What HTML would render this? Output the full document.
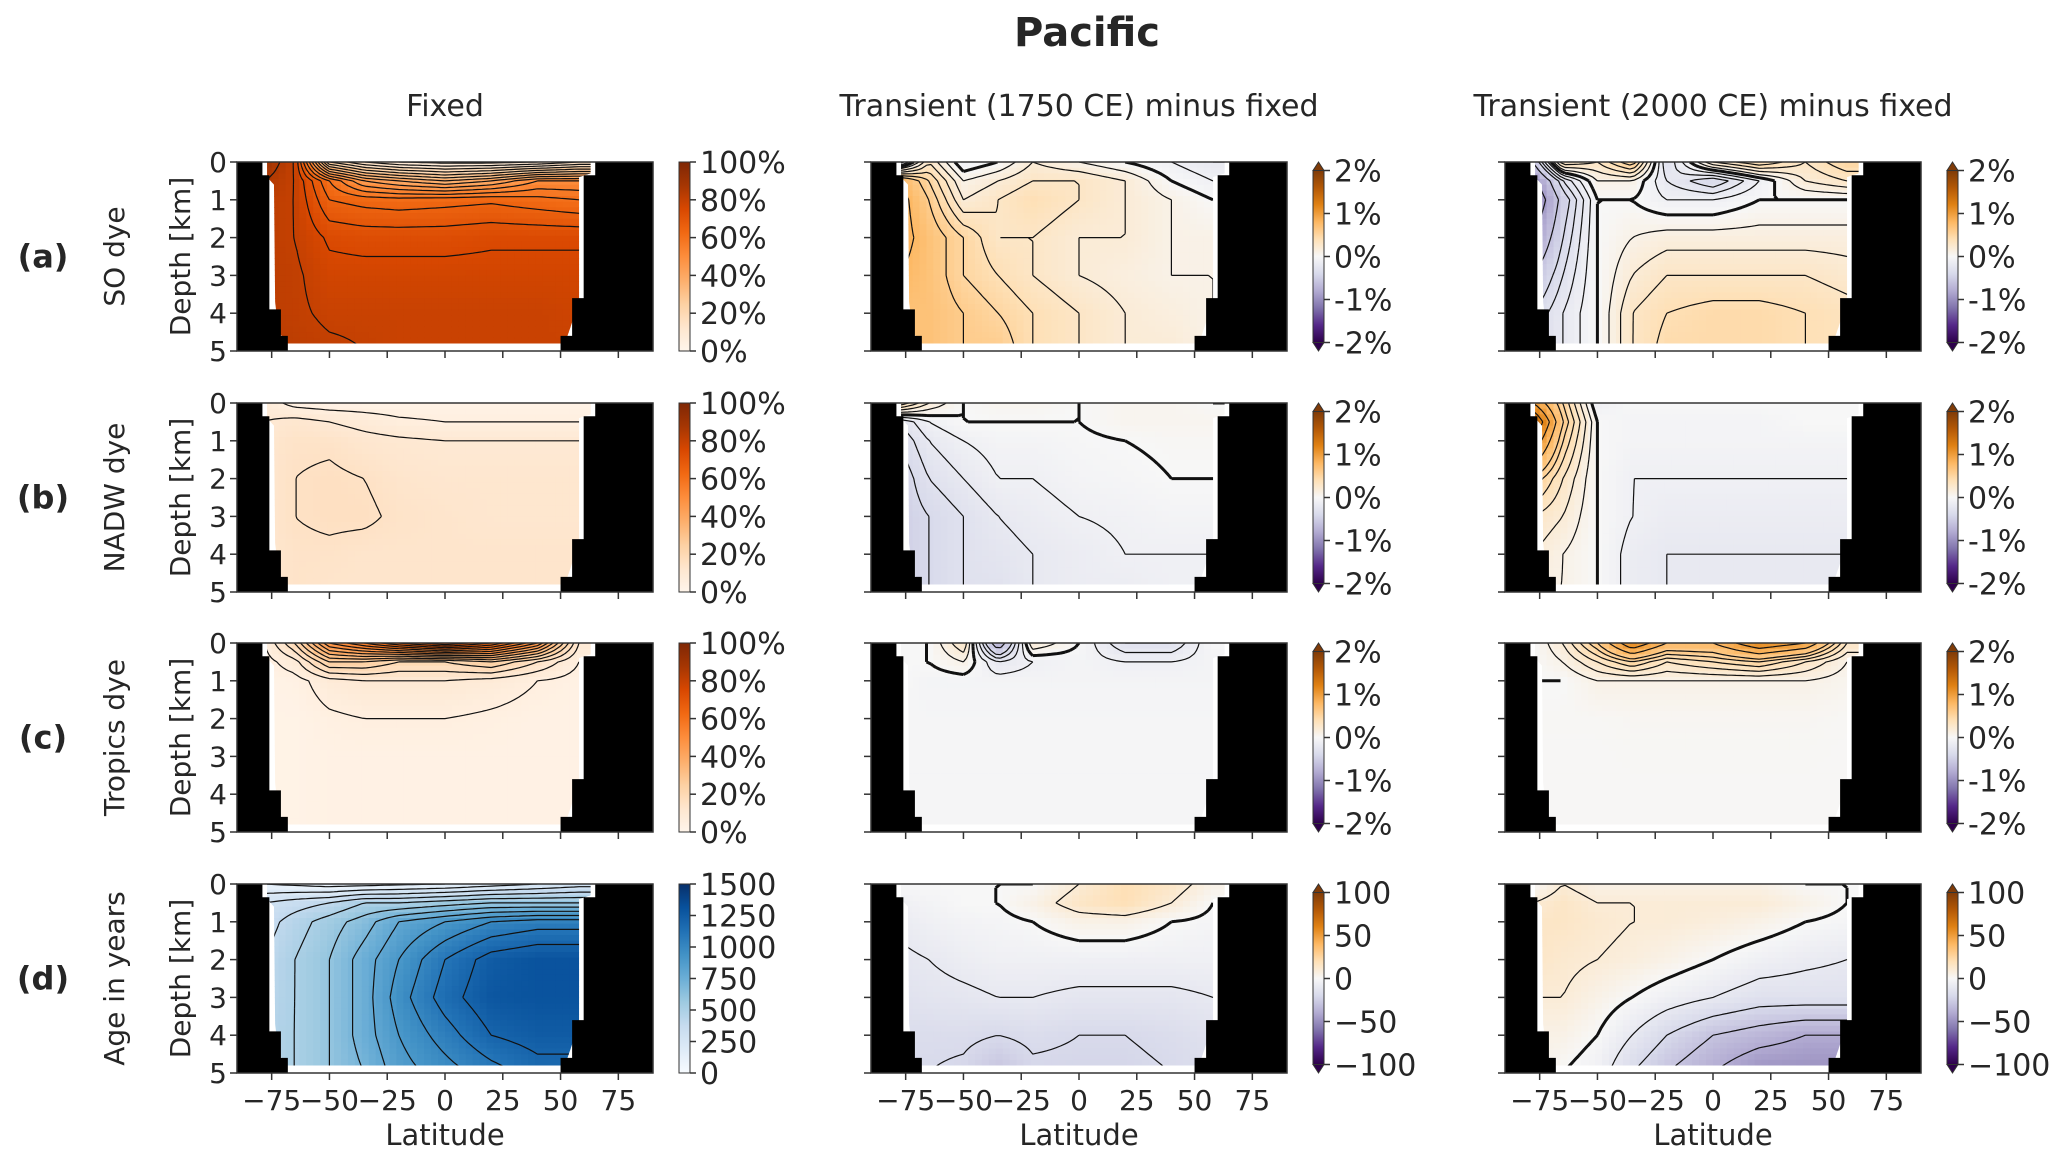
<!DOCTYPE html>
<html><head><meta charset="utf-8">
<style>
html,body{margin:0;padding:0;background:#fff;}
svg{display:block;font-family:"DejaVu Sans","Liberation Sans",sans-serif;}
</style></head>
<body>
<svg id="fig" xmlns="http://www.w3.org/2000/svg" width="2067" height="1162" viewBox="0 0 2067 1162">
<defs>
<linearGradient id="gOr" x1="0" y1="1" x2="0" y2="0">
<stop offset="0" stop-color="#fff5eb"/><stop offset="0.125" stop-color="#fee6ce"/><stop offset="0.25" stop-color="#fdd0a2"/><stop offset="0.375" stop-color="#fdae6b"/><stop offset="0.5" stop-color="#fd8d3c"/><stop offset="0.625" stop-color="#f16913"/><stop offset="0.75" stop-color="#d94801"/><stop offset="0.875" stop-color="#a63603"/><stop offset="1" stop-color="#7f2704"/>
</linearGradient>
<linearGradient id="gBl" x1="0" y1="1" x2="0" y2="0">
<stop offset="0" stop-color="#f7fbff"/><stop offset="0.125" stop-color="#deebf7"/><stop offset="0.25" stop-color="#c6dbef"/><stop offset="0.375" stop-color="#9ecae1"/><stop offset="0.5" stop-color="#6baed6"/><stop offset="0.625" stop-color="#4292c6"/><stop offset="0.75" stop-color="#2171b5"/><stop offset="0.875" stop-color="#08519c"/><stop offset="1" stop-color="#08306b"/>
</linearGradient>
<linearGradient id="gPo" x1="0" y1="1" x2="0" y2="0">
<stop offset="0" stop-color="#2d004b"/><stop offset="0.1" stop-color="#542788"/><stop offset="0.2" stop-color="#8073ac"/><stop offset="0.3" stop-color="#b2abd2"/><stop offset="0.4" stop-color="#d8daeb"/><stop offset="0.5" stop-color="#f7f7f7"/><stop offset="0.6" stop-color="#fee0b6"/><stop offset="0.7" stop-color="#fdb863"/><stop offset="0.8" stop-color="#e08214"/><stop offset="0.9" stop-color="#b35806"/><stop offset="1" stop-color="#7f3b08"/>
</linearGradient>
</defs>
<text x="1087" y="46" font-size="40" font-weight="bold" text-anchor="middle" fill="#262626">Pacific</text>
</svg>
<script>
// ---- data ----
const lats = [-78,-65,-50,-35,-20,0,20,40,58];
const depths = [0,0.5,1,2,3,4,5];
const colTitles = ["Fixed","Transient (1750 CE) minus fixed","Transient (2000 CE) minus fixed"];
const rowLetters = ["(a)","(b)","(c)","(d)"];
const rowNames = ["SO dye","NADW dye","Tropics dye","Age in years"];
const depthTicks = [0,1,2,3,4,5];
const latTicks = [-75,-50,-25,0,25,50,75];
const latTickLabels = ["\u221275","\u221250","\u221225","0","25","50","75"];
const pctLabels = ["100%","80%","60%","40%","20%","0%"];
const pctVals = [100,80,60,40,20,0];
const diffLabels = ["2%","1%","0%","-1%","-2%"];
const diffVals = [2,1,0,-1,-2];
const ageLabels = ["1500","1250","1000","750","500","250","0"];
const ageVals = [1500,1250,1000,750,500,250,0];
const ageDiffLabels = ["100","50","0","\u221250","\u2212100"];
const ageDiffVals = [100,50,0,-50,-100];
const pctLevels = [5,10,15,20,25,30,35,40,45,50,55,60,65,70,75,80,85,90];
const ageLevels = [100,200,300,400,500,600,700,800,900,1000,1100,1200,1300,1400];
const diffLevels = [-1.5,-1.2,-0.9,-0.6,-0.4,-0.3,-0.2,-0.1,0,0.1,0.2,0.3,0.4,0.5,0.6,0.8,1.0,1.2,1.5];
const ageDiffLevels = [-50,-40,-30,-20,-10,0,10,20];

const soFixed = [[90,80,20,10,5,3,3,5,10],[85,80,60,45,40,35,40,50,50],[82,80,65,63,62,63,64,62,60],[82,80,74,73,73,73,74,74,74],[82,81,77,77,77,77,77,77,77],[82,81,79,79,79,79,79,79,78],[83,82,81,80,79,79,79,79,79]];
const so1750 = [[-0.3,0.3,-0.1,0,0.2,0.1,0.0,-0.1,-0.2],[0.8,0.5,0.1,0.2,0.3,0.3,0.2,0,-0.1],[0.9,0.6,0.2,0.3,0.4,0.3,0.2,0.1,0.0],[0.9,0.7,0.5,0.3,0.3,0.2,0.2,0.1,0.1],[0.8,0.7,0.5,0.4,0.3,0.2,0.15,0.1,0.1],[0.7,0.7,0.6,0.5,0.4,0.3,0.2,0.15,0.1],[0.7,0.7,0.6,0.6,0.4,0.3,0.2,0.2,0.1]];
const so2000 = [[-0.6,0.4,0.3,0.6,-0.3,0.3,0.5,0.3,0.5],[-1.0,-0.3,0.1,0.1,-0.2,-0.4,-0.1,0.2,0.3],[-1.2,-0.5,0.0,0.0,-0.1,-0.1,0,0,0],[-0.9,-0.4,0.0,0.1,0.15,0.15,0.15,0.15,0.15],[-0.6,-0.3,0.0,0.2,0.3,0.3,0.3,0.3,0.25],[-0.4,-0.2,0.0,0.3,0.4,0.45,0.45,0.4,0.35],[-0.4,-0.2,0.0,0.3,0.45,0.45,0.45,0.4,0.35]];
const nadwFixed = [[8,3,2,2,2,2,2,2,2],[10,12,10,8,6,5,5,5,5],[12,14,14,12,11,10,10,10,10],[12,15,16,15,13,12,12,12,12],[12,15,16,16,14,13,12,12,12],[12,14,14,13,13,13,13,13,13],[12,14,13,13,13,13,13,13,13]];
const nadw1750 = [[0.5,0.2,0,0.05,0.05,0,0.05,0.05,0],[-0.3,-0.1,0,0,0,0,0.05,0.05,0.05],[-0.4,-0.2,-0.1,-0.05,-0.05,-0.02,0,0.02,0.02],[-0.5,-0.3,-0.2,-0.1,-0.1,-0.05,-0.03,0,0],[-0.5,-0.4,-0.3,-0.2,-0.15,-0.1,-0.08,-0.05,-0.05],[-0.5,-0.4,-0.3,-0.25,-0.2,-0.15,-0.1,-0.1,-0.1],[-0.5,-0.4,-0.3,-0.3,-0.2,-0.15,-0.15,-0.1,-0.1]];
const nadw2000 = [[1.0,0.5,-0.1,0,0,0,0,0,0],[1.5,0.6,0,-0.05,-0.05,-0.05,-0.05,0,0],[1.2,0.5,0,-0.05,-0.05,-0.05,-0.05,-0.05,-0.05],[0.6,0.3,0,-0.1,-0.1,-0.1,-0.1,-0.1,-0.1],[0.3,0.2,0,-0.1,-0.15,-0.15,-0.15,-0.15,-0.15],[0.2,0.1,0,-0.15,-0.2,-0.2,-0.2,-0.2,-0.2],[0.1,0.1,0,-0.15,-0.2,-0.2,-0.2,-0.2,-0.2]];
const tropFixed = [[5,20,50,60,70,80,70,50,10],[3,8,25,25,20,20,25,15,5],[2,3,8,10,10,10,8,5,3],[2,2,4,5,5,5,4,3,3],[2,2,3,3,3,3,3,3,3],[2,2,3,3,3,3,3,3,3],[2,2,3,3,3,3,3,3,3]];
const trop1750 = [[0,0,0.3,-0.8,0.2,0,-0.3,-0.3,0],[0,0,0.1,-0.2,-0.1,-0.05,-0.1,-0.1,-0.05],[0,-0.05,-0.05,-0.05,-0.05,-0.05,-0.05,-0.05,-0.05],[-0.03,-0.03,-0.03,-0.03,-0.03,-0.03,-0.03,-0.03,-0.03],[-0.03,-0.03,-0.03,-0.03,-0.03,-0.03,-0.03,-0.03,-0.03],[-0.03,-0.03,-0.03,-0.03,-0.03,-0.03,-0.03,-0.03,-0.03],[-0.03,-0.03,-0.03,-0.03,-0.03,-0.03,-0.03,-0.03,-0.03]];
const trop2000 = [[0,0.2,0.6,1.2,0.8,0.8,1.2,1.0,0.3],[0,0.1,0.3,0.5,0.3,0.4,0.5,0.3,0.1],[0,0,0.1,0.1,0.1,0.1,0.1,0.1,0.05],[0.02,0.02,0.02,0.03,0.03,0.03,0.03,0.03,0.02],[0.01,0.01,0.01,0.02,0.02,0.02,0.02,0.02,0.01],[0.01,0.01,0.01,0.01,0.01,0.01,0.01,0.01,0.01],[0.01,0.01,0.01,0.01,0.01,0.01,0.01,0.01,0.01]];
const ageFixed = [[100,80,50,60,80,100,150,200,250],[300,350,400,500,500,550,600,600,600],[350,450,550,650,800,900,1000,1050,1050],[400,500,600,750,900,1100,1250,1300,1300],[420,500,600,750,950,1150,1280,1300,1300],[450,500,600,750,900,1050,1200,1250,1250],[450,500,600,700,850,950,1050,1150,1150]];
const age1750 = [[0,0,0,0,0,10,20,15,5],[-5,-3,0,0,5,15,20,10,0],[-8,-5,-3,-2,0,5,5,0,-2],[-12,-10,-7,-5,-5,-5,-5,-5,-5],[-15,-13,-12,-10,-10,-12,-12,-12,-10],[-18,-18,-18,-20,-18,-20,-20,-18,-15],[-20,-20,-22,-30,-22,-22,-22,-20,-18]];
const age2000 = [[0,10,5,5,5,5,5,0,0],[10,15,10,10,10,10,10,5,0],[15,15,12,10,10,8,5,0,-2],[15,12,10,8,5,0,-5,-8,-10],[10,10,5,0,-5,-10,-15,-15,-15],[5,5,0,-10,-20,-30,-35,-40,-40],[5,0,-5,-20,-30,-40,-50,-50,-50]];

// ---- layout / colormaps ----
const NS="http://www.w3.org/2000/svg";
const svg=document.getElementById('fig');
const colX=[237,871,1505], rowY=[162,403,643,884], W=416, H=189;
const OR=["#fff5eb","#fee6ce","#fdd0a2","#fdae6b","#fd8d3c","#f16913","#d94801","#a63603","#7f2704"];
const BL=["#f7fbff","#deebf7","#c6dbef","#9ecae1","#6baed6","#4292c6","#2171b5","#08519c","#08306b"];
const PO=["#2d004b","#542788","#8073ac","#b2abd2","#d8daeb","#f7f7f7","#fee0b6","#fdb863","#e08214","#b35806","#7f3b08"];
function hex(h){return [parseInt(h.substr(1,2),16),parseInt(h.substr(3,2),16),parseInt(h.substr(5,2),16)];}
function cmap(stops,t){t=Math.max(0,Math.min(1,t));const n=stops.length-1;const f=t*n;const i=Math.min(n-1,Math.floor(f));const u=f-i;const a=hex(stops[i]),b=hex(stops[i+1]);return 'rgb('+a.map((v,k)=>Math.round(v+(b[k]-v)*u)).join(',')+')';}
function mk(tag,attrs,parent){const e=document.createElementNS(NS,tag);for(const k in attrs)e.setAttribute(k,attrs[k]);(parent||svg).appendChild(e);return e;}
function interp(grid,lat,d){
  let i=0;while(i<lats.length-2&&lat>lats[i+1])i++;
  let j=0;while(j<depths.length-2&&d>depths[j+1])j++;
  const u=Math.max(0,Math.min(1,(lat-lats[i])/(lats[i+1]-lats[i])));
  const v=Math.max(0,Math.min(1,(d-depths[j])/(depths[j+1]-depths[j])));
  const a=grid[j][i],b=grid[j][i+1],c=grid[j+1][i],e=grid[j+1][i+1];
  return a*(1-u)*(1-v)+b*u*(1-v)+c*(1-u)*v+e*u*v;
}
const panels=[
 [soFixed,so1750,so2000],[nadwFixed,nadw1750,nadw2000],[tropFixed,trop1750,trop2000],[ageFixed,age1750,age2000]];
const fieldPoly=[[-77,0],[63,0],[63,0.3],[58,0.4],[58,3.7],[53,4.6],[51,4.8],[-68,4.8],[-72,4.5],[-73.5,3.7],[-74,0.6],[-77,0.4]];
const landL=[[-90,0],[-79,0],[-79,0.35],[-76,0.35],[-76,3.9],[-71,3.9],[-71,4.6],[-68,4.6],[-68,5],[-90,5]];
const landR=[[90,0],[65,0],[65,0.35],[60,0.35],[60,3.6],[55,3.6],[55,4.6],[50,4.6],[50,5],[90,5]];

function contourPath(grid,level,X,Y){
  level=level+1e-6;
  const dl=2,dd=0.1;let d='';
  for(let lat=-78;lat<64;lat+=dl){
    for(let z=0;z<4.85;z+=dd){
      const p=[[lat,z],[lat+dl,z],[lat+dl,z+dd],[lat,z+dd]];
      const v=p.map(q=>interp(grid,q[0],q[1]));
      const pts=[];
      for(let k=0;k<4;k++){
        const a=v[k],b=v[(k+1)%4];
        if((a<level)!==(b<level)){
          const t=(level-a)/(b-a);const A=p[k],B=p[(k+1)%4];
          pts.push([A[0]+(B[0]-A[0])*t,A[1]+(B[1]-A[1])*t]);
        }
      }
      for(let k=0;k+1<pts.length;k+=2){
        d+='M'+X(pts[k][0]).toFixed(1)+' '+Y(pts[k][1]).toFixed(1)+'L'+X(pts[k+1][0]).toFixed(1)+' '+Y(pts[k+1][1]).toFixed(1);
      }
    }
  }
  return d;
}

for(let r=0;r<4;r++){
  const y0=rowY[r];
  const lt=mk('text',{x:43,y:y0+H/2+11,'font-size':32,'font-weight':'bold','text-anchor':'middle',fill:'#262626'});
  
  
  lt.textContent=rowLetters[r];
  const rn=mk('text',{x:0,y:0,'font-size':28,'text-anchor':'middle',fill:'#262626',transform:`translate(124,${y0+H/2}) rotate(-90)`});
  
  
  rn.textContent=rowNames[r];
  for(let c=0;c<3;c++){
    const x0=colX[c];
    const X=lat=>x0+(lat+90)/180*W, Y=d=>y0+d/5*H;
    const g=mk('g',{});
    
    
    const cid='clip'+r+c;
    const cp=mk('clipPath',{id:cid},g);
    mk('polygon',{points:fieldPoly.map(p=>X(p[0])+','+Y(p[1])).join(' ')},cp);
    mk('rect',{x:x0,y:y0,width:W,height:H,fill:'#ffffff'},g);
    const hg=mk('g',{'clip-path':`url(#${cid})`},g);
    const grid=panels[r][c];
    let stops,lo,hi,levels;
    if(c===0){ if(r===3){stops=BL;lo=0;hi=1500;levels=ageLevels;} else {stops=OR;lo=0;hi=100;levels=pctLevels;} }
    else { stops=PO; if(r===3){lo=-100;hi=100;levels=ageDiffLevels;} else {lo=-2;hi=2;levels=diffLevels;} }
    const dl=3,dd=0.15;
    for(let lat=-78;lat<64;lat+=dl){
      for(let d=0;d<4.85;d+=dd){
        const val=interp(grid,lat+dl/2,d+dd/2);
        const cell=mk('rect',{x:X(lat).toFixed(2),y:Y(d).toFixed(2),width:(W*dl/180+0.6).toFixed(2),height:(H*dd/5+0.6).toFixed(2),fill:cmap(stops,(val-lo)/(hi-lo))},hg);
        
        
      }
    }
    levels.forEach(lv=>{
      const dstr=contourPath(grid,lv,X,Y);
      if(!dstr)return;
      const cl=mk('path',{d:dstr,fill:'none',stroke:'#111','stroke-width':(c>0&&lv===0)?3:1.2},hg);
      
      
    });
    const l1=mk('polygon',{points:landL.map(p=>X(p[0])+','+Y(p[1])).join(' '),fill:'#000'},g);
    
    
    const l2=mk('polygon',{points:landR.map(p=>X(p[0])+','+Y(p[1])).join(' '),fill:'#000'},g);
    
    
    mk('rect',{x:x0,y:y0,width:W,height:H,fill:'none',stroke:'#333','stroke-width':1.5},g);
    depthTicks.forEach(t=>{
      mk('line',{x1:x0-7,x2:x0,y1:Y(t),y2:Y(t),stroke:'#333','stroke-width':1.5},g);
      if(c===0){
        const tl=mk('text',{x:x0-10,y:Y(t)+10,'font-size':28,'text-anchor':'end',fill:'#262626'},g);
        
        
        tl.textContent=t;
      }
    });
    latTicks.forEach((t,k)=>{
      mk('line',{x1:X(t),x2:X(t),y1:y0+H,y2:y0+H+7,stroke:'#333','stroke-width':1.5},g);
      if(r===3){
        const tl=mk('text',{x:X(t),y:y0+H+37,'font-size':28,'text-anchor':'middle',fill:'#262626'},g);
        
        
        tl.textContent=latTickLabels[k];
      }
    });
    if(c===0){
      const yl=mk('text',{x:0,y:0,'font-size':28,'text-anchor':'middle',fill:'#262626',transform:`translate(190,${y0+H/2}) rotate(-90)`},g);
      
      
      yl.textContent='Depth [km]';
    }
    if(r===3){
      const xl=mk('text',{x:x0+W/2,y:y0+H+72,'font-size':29,'text-anchor':'middle',fill:'#262626'},g);
      
      
      xl.textContent='Latitude';
    }
    if(r===0){
      const ct=mk('text',{x:x0+W/2,y:116,'font-size':30,'text-anchor':'middle',fill:'#262626'},g);
      
      
      ct.textContent=colTitles[c];
    }
    const cbx=x0+442, cbw=11;
    const cb=mk('g',{},g);
    
    
    let labels,vals,grad,ext=false;
    if(c===0){ if(r===3){labels=ageLabels;vals=ageVals;grad='gBl';} else {labels=pctLabels;vals=pctVals;grad='gOr';} }
    else { ext=true; grad='gPo'; if(r===3){labels=ageDiffLabels;vals=ageDiffVals;} else {labels=diffLabels;vals=diffVals;} }
    const tri=ext?H*0.045:0;
    const ct0=y0+tri, ch=H-2*tri;
    mk('rect',{x:cbx,y:ct0,width:cbw,height:ch,fill:`url(#${grad})`,stroke:'#333','stroke-width':1},cb);
    if(ext){
      mk('polygon',{points:`${cbx},${ct0} ${cbx+cbw},${ct0} ${cbx+cbw/2},${y0}`,fill:PO[10],stroke:'#333','stroke-width':1},cb);
      mk('polygon',{points:`${cbx},${ct0+ch} ${cbx+cbw},${ct0+ch} ${cbx+cbw/2},${y0+H}`,fill:PO[0],stroke:'#333','stroke-width':1},cb);
    }
    const vmax=vals[0], vmin=vals[vals.length-1];
    vals.forEach((v,k)=>{
      const ty=ct0+(vmax-v)/(vmax-vmin)*ch;
      mk('line',{x1:cbx+cbw,x2:cbx+cbw+6,y1:ty,y2:ty,stroke:'#333','stroke-width':1.5},cb);
      const tl=mk('text',{x:cbx+cbw+10,y:ty+11,'font-size':30,fill:'#262626'},cb);
      
      
      tl.textContent=labels[k];
    });
  }
}
</script>
</body></html>
